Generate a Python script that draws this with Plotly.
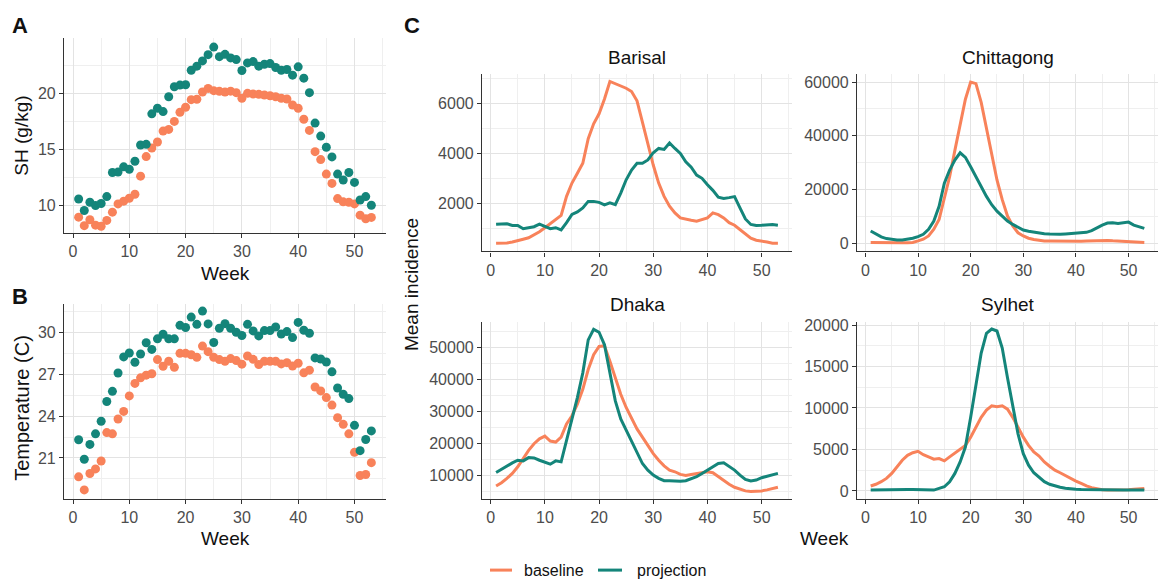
import plotly.graph_objects as go

weeks = list(range(1, 54))

# Panel A: specific humidity (g/kg)
sh_baseline = [8.93, 8.17, 8.7, 8.22, 8.11, 8.64, 9.38, 10.12, 10.36, 10.62, 10.98, 12.6, 14.35, 15.12, 15.65,
               16.63, 16.78, 17.49, 18.31, 18.76, 19.44, 19.47, 20.12, 20.44, 20.24, 20.18, 20.12, 20.2, 20.06,
               19.56, 20.0, 19.94, 19.91, 19.85, 19.79, 19.7, 19.56, 19.5, 18.96, 18.67, 17.69, 16.69, 14.79,
               14.08, 12.78, 11.95, 10.59, 10.3, 10.27, 10.12, 9.11, 8.79, 8.91]
sh_projection = [10.56, 9.53, 10.27, 9.97, 10.15, 10.77, 12.93, 12.96, 13.43, 13.22, 13.93, 15.38, 15.44, 18.17,
                 18.67, 18.37, 19.7, 20.59, 20.74, 20.77, 22.07, 22.43, 22.9, 23.46, 24.14, 23.28, 23.49, 23.17,
                 23.02, 22.04, 22.72, 22.84, 22.43, 22.6, 22.66, 22.31, 22.07, 22.13, 21.63, 22.37, 21.36, 20.06,
                 17.34, 16.18, 15.18, 14.32, 12.78, 12.25, 12.93, 12.04, 10.47, 10.77, 10.0]

# Panel B: temperature (C)
temp_baseline = [19.64, 18.7, 19.88, 20.21, 20.78, 22.82, 22.73, 23.79, 24.34, 25.45, 26.35, 26.75, 26.94, 27.04,
                 28.06, 27.58, 27.94, 27.51, 28.51, 28.51, 28.41, 28.22, 29.03, 28.63, 28.22, 28.06, 27.94, 28.13,
                 27.99, 27.73, 28.32, 28.08, 27.7, 27.94, 27.94, 27.94, 27.75, 27.84, 27.6, 27.8, 27.11, 27.3,
                 26.09, 25.81, 25.33, 24.79, 23.89, 23.41, 22.73, 21.4, 19.74, 19.81, 20.66]
temp_projection = [22.3, 20.9, 21.97, 22.73, 23.63, 25.05, 25.78, 27.1, 28.25, 28.53, 27.87, 28.46, 29.27, 28.79,
                   29.55, 29.88, 29.55, 29.55, 30.52, 30.36, 31.11, 30.59, 31.54, 30.62, 29.29, 30.31, 30.64,
                   30.31, 30.02, 29.79, 30.59, 30.12, 29.76, 30.14, 30.14, 30.4, 29.9, 30.07, 29.64, 30.73, 30.17,
                   29.95, 28.18, 28.1, 27.89, 27.18, 26.02, 25.57, 25.26, 23.34, 21.52, 22.32, 22.94]

# Panel C: mean incidence
barisal_baseline = [421, 420, 430, 470, 510, 580, 640, 750, 880, 1040, 1200, 1340, 1530, 2290, 2820, 3210, 3610,
                    4590, 5180, 5580, 6170, 6870, 6790, 6700, 6600, 6470, 6100, 5250, 4390, 3540, 2820, 2290,
                    1900, 1630, 1430, 1370, 1340, 1300, 1370, 1430, 1630, 1560, 1430, 1240, 1140, 970, 780, 620,
                    540, 510, 470, 420, 420]
barisal_projection = [1180, 1200, 1200, 1130, 1130, 1000, 1050, 1080, 1180, 1100, 1000, 1040, 950, 1240, 1570,
                      1670, 1830, 2090, 2090, 2050, 1950, 2030, 1960, 2420, 2950, 3340, 3610, 3610, 3740, 4030,
                      4200, 4160, 4420, 4200, 4000, 3670, 3450, 3140, 3010, 2750, 2530, 2260, 2210, 2240, 2280,
                      1830, 1390, 1170, 1130, 1140, 1160, 1170, 1140]
chittagong_baseline = [370, 320, 300, 290, 290, 300, 310, 330, 420, 980, 1600, 2800, 5300, 8900, 16300, 24800,
                       34600, 44400, 53600, 60000, 59400, 52400, 43200, 32800, 23600, 16300, 10200, 6500, 4000,
                       2800, 1960, 1470, 1100, 950, 900, 850, 820, 800, 800, 820, 850, 900, 950, 1050, 1200, 1150,
                       1000, 850, 750, 650, 550, 450, 350]
chittagong_projection = [4650, 3430, 2450, 1840, 1470, 1350, 1350, 1600, 1960, 2570, 3430, 5260, 8320, 13830,
                         22400, 27300, 31000, 33700, 32000, 28500, 24800, 21200, 17500, 14400, 12000, 10200, 8320,
                         7100, 5900, 5000, 4530, 4160, 3920, 3670, 3550, 3430, 3430, 3550, 3670, 3800, 3920, 4160,
                         4770, 5900, 6850, 7590, 7710, 7470, 7710, 7960, 6850, 6120, 5630]
dhaka_baseline = [6700, 7740, 9080, 10620, 12680, 15250, 17820, 19870, 21410, 22240, 20700, 20390, 21930, 26040,
                  28610, 32210, 36840, 43000, 47630, 50200, 50400, 45580, 40440, 35300, 31180, 27580, 24500, 21930,
                  19360, 16790, 14730, 12980, 11650, 11130, 10310, 10000, 10310, 10620, 10930, 11130, 10820, 9590,
                  8360, 7230, 6300, 5690, 5170, 4970, 4970, 5170, 5480, 5890, 6300]
dhaka_projection = [10930, 11950, 12980, 13910, 14730, 14530, 15550, 15450, 14730, 14220, 13500, 14530, 14220,
                    20900, 27580, 34270, 41980, 52260, 55550, 54630, 50720, 42490, 33240, 27580, 23980, 20390,
                    16790, 13700, 11650, 10100, 9080, 8360, 8360, 8150, 8150, 8360, 8870, 9590, 10620, 11650, 12680,
                    13700, 13910, 12880, 11650, 10100, 8770, 8250, 8560, 9280, 9790, 10310, 10620]
sylhet_baseline = [600, 800, 1110, 1510, 2110, 2900, 3700, 4290, 4610, 4770, 4370, 4100, 3820, 3900, 3620, 4100,
                   4570, 4970, 5490, 6480, 7670, 8870, 9740, 10260, 10140, 10260, 9860, 8870, 7670, 6480, 5490,
                   4690, 4210, 3500, 2980, 2500, 2190, 1830, 1510, 1190, 910, 600, 400, 240, 150, 120, 110, 110,
                   120, 150, 200, 260, 300]
sylhet_projection = [100, 120, 140, 160, 180, 200, 200, 180, 160, 150, 140, 120, 100, 300, 500, 1110, 2110, 3500,
                     5290, 8870, 12840, 16620, 19000, 19520, 19280, 17220, 13640, 10060, 6880, 4490, 3100, 2190,
                     1590, 1110, 800, 600, 440, 320, 240, 200, 170, 150, 130, 120, 110, 100, 100, 100, 100, 100,
                     100, 100, 100]

regions = ["Barisal", "Chittagong", "Dhaka", "Sylhet"]
series_names = ["baseline", "projection"]

ORANGE = "#F8825A"
TEAL = "#14857A"
W, H = 1160, 581
FONT = "Liberation Sans, Arial, sans-serif"


def fx(px):
    return px / W


def fy(py):
    return 1 - py / H


fig = go.Figure()

# scatter panels
fig.add_trace(go.Scatter(x=weeks, y=sh_baseline, mode="markers", marker=dict(color=ORANGE, size=9),
                         xaxis="x", yaxis="y", showlegend=False))
fig.add_trace(go.Scatter(x=weeks, y=sh_projection, mode="markers", marker=dict(color=TEAL, size=9),
                         xaxis="x", yaxis="y", showlegend=False))
fig.add_trace(go.Scatter(x=weeks, y=temp_baseline, mode="markers", marker=dict(color=ORANGE, size=9),
                         xaxis="x2", yaxis="y2", showlegend=False))
fig.add_trace(go.Scatter(x=weeks, y=temp_projection, mode="markers", marker=dict(color=TEAL, size=9),
                         xaxis="x2", yaxis="y2", showlegend=False))

incidence = [
    (barisal_baseline, barisal_projection),
    (chittagong_baseline, chittagong_projection),
    (dhaka_baseline, dhaka_projection),
    (sylhet_baseline, sylhet_projection),
]
for i, (b, p) in enumerate(incidence):
    ax = str(i + 3)
    fig.add_trace(go.Scatter(x=weeks, y=b, mode="lines", line=dict(color=ORANGE, width=3),
                             xaxis="x" + ax, yaxis="y" + ax, name=series_names[0], showlegend=False))
    fig.add_trace(go.Scatter(x=weeks, y=p, mode="lines", line=dict(color=TEAL, width=3),
                             xaxis="x" + ax, yaxis="y" + ax, name=series_names[1], showlegend=False))

GRID = "#E3E3E3"
MINOR = "#EFEFEF"
TICKFONT = dict(family=FONT, size=16, color="#4D4D4D")


def xax(dom, anchor):
    return dict(domain=dom, anchor=anchor, range=[-1.6, 55.6], tickmode="linear", tick0=0, dtick=10,
                showgrid=True, gridcolor=GRID, gridwidth=1.2, zeroline=False,
                minor=dict(tick0=0, dtick=5, showgrid=True, gridcolor=MINOR, gridwidth=0.7),
                showline=True, linecolor="#333333", linewidth=1.2, ticks="outside", ticklen=4,
                tickcolor="#333333", tickfont=TICKFONT)


def yax(dom, anchor, rng, dtick, mdtick):
    return dict(domain=dom, anchor=anchor, range=rng, tickmode="linear", tick0=0, dtick=dtick,
                tickformat="d",
                showgrid=True, gridcolor=GRID, gridwidth=1.2, zeroline=False,
                minor=dict(tick0=0, dtick=mdtick, showgrid=True, gridcolor=MINOR, gridwidth=0.7),
                showline=True, linecolor="#333333", linewidth=1.2, ticks="outside", ticklen=4,
                tickcolor="#333333", tickfont=TICKFONT)


fig.update_layout(
    width=W, height=H, margin=dict(l=0, r=0, t=0, b=0),
    paper_bgcolor="white", plot_bgcolor="white",
    font=dict(family=FONT, color="#1a1a1a"),
    showlegend=False,
    xaxis=xax([fx(64), fx(386)], "y"),
    yaxis=yax([fy(230), fy(33)], "x", [7.55, 24.98], 5, 2.5),
    xaxis2=xax([fx(64), fx(386)], "y2"),
    yaxis2=yax([fy(499), fy(302)], "x2", [18.06, 32.06], 3, 1.5),
    xaxis3=xax([fx(482), fx(792)], "y3"),
    yaxis3=yax([fy(249), fy(70)], "x3", [95, 7156], 2000, 1000),
    xaxis4=xax([fx(857), fx(1158)], "y4"),
    yaxis4=yax([fy(249), fy(70)], "x4", [-2940, 62870], 20000, 10000),
    xaxis5=xax([fx(482), fx(792)], "y5"),
    yaxis5=yax([fy(499), fy(320)], "x5", [2690, 57930], 10000, 5000),
    xaxis6=xax([fx(857), fx(1158)], "y6"),
    yaxis6=yax([fy(499), fy(320)], "x6", [-955, 20400], 5000, 2500),
)

annots = []


def txt(text, x, y, size, bold=False, angle=0, xanchor="center"):
    annots.append(dict(text=("<b>%s</b>" % text) if bold else text, x=fx(x), y=fy(y), xref="paper",
                       yref="paper", showarrow=False, xanchor=xanchor, yanchor="middle", textangle=angle,
                       font=dict(size=size, color="#111111", family=FONT)))


txt("A", 20, 21, 22, bold=True)
txt("B", 20, 295, 22, bold=True)
txt("C", 412, 21, 22, bold=True)
txt("SH (g/kg)", 22, 132, 19, angle=-90)
txt("Temperature (C)", 22, 407, 20, angle=-90)
txt("Week", 225, 271, 19)
txt("Week", 225, 539, 19)
txt("Mean incidence", 411, 283, 19, angle=-90)
txt("Week", 824, 539, 19)
txt(regions[0], 637, 53, 19)
txt(regions[1], 1008, 53, 19)
txt(regions[2], 637, 303, 19)
txt(regions[3], 1008, 303, 19)
txt(series_names[0], 522, 571, 16, xanchor="left")
txt(series_names[1], 635, 571, 16, xanchor="left")

shapes = [
    dict(type="line", xref="paper", yref="paper", x0=fx(490), x1=fx(512), y0=fy(571), y1=fy(571),
         line=dict(color=ORANGE, width=3)),
    dict(type="line", xref="paper", yref="paper", x0=fx(598), x1=fx(622), y0=fy(571), y1=fy(571),
         line=dict(color=TEAL, width=3)),
]
fig.update_layout(annotations=annots, shapes=shapes)

fig.write_html("out.html")
